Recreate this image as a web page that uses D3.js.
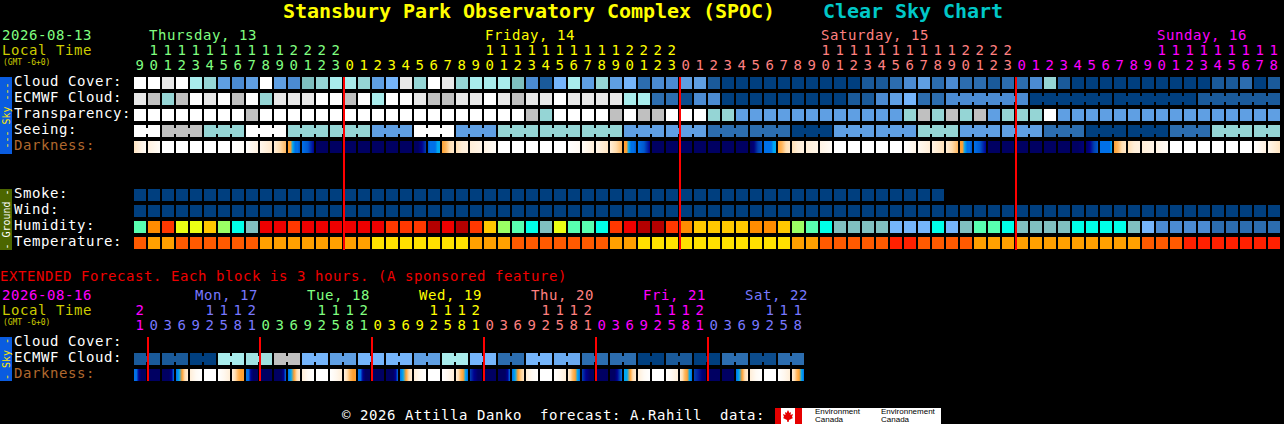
<!DOCTYPE html>
<html><head><meta charset="utf-8">
<script src="https://cdnjs.cloudflare.com/ajax/libs/d3/7.8.5/d3.min.js"></script>
<style>
html,body{margin:0;padding:0;background:#000;overflow:hidden}
svg{display:block}
text{font-family:"DejaVu Sans Mono",monospace;font-size:14px;letter-spacing:0.57px;white-space:pre;text-rendering:optimizeSpeed}
</style></head><body><div id="c"></div>
<script>
// ---------- Data ----------
const title="Stansbury Park Observatory Complex (SPOC)";
const subtitle="Clear Sky Chart";
const firstDate="2026-08-13", extDate="2026-08-16";
const footer="© 2026 Attilla Danko  forecast: A.Rahill  data:";
const extNote="EXTENDED Forecast. Each block is 3 hours. (A sponsored feature)";

const mainHours=[9,10,11,12,13,14,15,16,17,18,19,20,21,22,23,
0,1,2,3,4,5,6,7,8,9,10,11,12,13,14,15,16,17,18,19,20,21,22,23,
0,1,2,3,4,5,6,7,8,9,10,11,12,13,14,15,16,17,18,19,20,21,22,23,
0,1,2,3,4,5,6,7,8,9,10,11,12,13,14,15,16,17,18];
const mainDays=[{name:"Thursday, 13",col:1},{name:"Friday, 14",col:25},{name:"Saturday, 15",col:49},{name:"Sunday, 16",col:73}];
const extHours=[21,0,3,6,9,12,15,18,21,0,3,6,9,12,15,18,21,0,3,6,9,12,15,18,21,0,3,6,9,12,15,18,21,0,3,6,9,12,15,18,21,0,3,6,9,12,15,18];
const extDays=[{name:"Mon, 17",x:195},{name:"Tue, 18",x:307},{name:"Wed, 19",x:419},{name:"Thu, 20",x:531},{name:"Fri, 21",x:643},{name:"Sat, 22",x:745}];

// cloud-style levels (percent)
const cloudCover=[100,100,95,100,80,70,40,30,40,100,40,30,60,70,80,80,70,40,50,95,70,
100,95,70,80,80,80,60,30,10,50,80,40,70,40,50,20,30,30,40,40,10,0,0,0,0,0,0,0,0,0,
0,10,10,20,30,40,20,30,20,20,10,20,20,30,70,10,0,0,0,0,0,0,0,0,0,0,10,10,20,0,10];
const ecmwfCloud=[95,90,70,90,100,95,100,90,100,70,95,95,95,100,100,90,100,80,100,100,95,
90,90,95,95,100,95,90,95,95,100,95,95,95,95,80,80,20,20,5,30,30,0,0,0,0,0,0,0,0,0,
10,10,30,40,50,20,20,30,30,30,30,30,30,0,0,0,0,0,0,0,0,0,0,0,0,10,10,10,10,10,10];
const ecmwfSpans=[1,1,1,1,1,1,1,1,1,1,1,1,1,1,1,1,1,1,1,1,1,1,1,1,1,1,1,1,1,1,1,1,1,1,1,1,1,1,1,1,1,1,1,1,1,1,1,1,1,1,1,1,1,1,1,1,1,1,6,6,6,6];
const transparency=[100,100,100,100,100,100,100,100,90,100,100,100,100,100,100,100,100,100,100,100,100,
100,100,100,100,100,100,100,90,70,100,100,100,100,90,100,90,90,100,100,100,70,70,40,40,40,40,40,40,40,40,
40,40,40,40,70,90,70,90,70,90,40,70,70,70,100,40,40,40,40,40,40,40,40,40,40,40,40,40,40,40,40];
const seeing=[100,100,90,90,90,70,70,70,100,100,100,70,70,70,70,70,70,40,40,40,100,
100,100,40,40,40,70,70,70,70,70,70,70,70,70,40,40,40,40,40,40,20,20,20,20,20,20,0,0,0,40,
40,40,40,40,40,70,70,70,40,40,40,40,40,40,20,20,20,0,0,0,0,0,0,20,20,20,70,70,70,70,70];
const seeingSpans=[2,3,3,3,3,3,3,3,3,3,3,3,3,3,3,3,3,3,3,3,3,3,3,3,3,3,3,2];
const darkness=[[1.3,0.8,0.2],[0.8,0.2],[0],[0],[0],[0],[0],[0,0.2],[0.1,0.8],[0.5,1.2],[1,1.6,2.5],
[3,3,4,5,5,5.5],[5,5.5,7],[8],[8],[8],[8],[8],[8],[8],[8,8,7,6],[5.5,5,5,5,4,4],
[3,2.5,1.5,1.2],[1.5,1,0.8],[1,0.6],[0.7,0.2],[0],[0],[0],[0],[0],[0,0.3],[0.2,1],[0.6,1.3],[1,1.6,2.5],
[3,3,4,5,5,5.5],[5,5.5,7],[8],[8],[8],[8],[8],[8],[8],[8,7.5,6,5.5],[5,5,5,5,4,4],
[3,2.5,1.5,1.2],[1.5,1,0.8],[1,0.6],[0.7,0.2],[0],[0],[0],[0],[0],[0,0.6],[0.3,1],[0.7,1.4],[1,1.6,2.5],
[3,3,4,5,5,5.5],[5,5.5,7],[8],[8],[8],[8],[8],[8],[8,8,7.5],[8,7,6,5.5],[5,5,5,5,5,4],
[3,2.5,1.5,1.2],[1.5,1,0.8],[1,0.6],[0.7,0.2],[0],[0],[0],[0],[0],[0],[0,0.8],[0.5,1.3]];
const smoke=[0,0,0,0,0,0,0,0,0,0,0,0,0,0,0,0,0,0,0,0,0,0,0,0,0,0,0,0,0,0,0,0,0,0,0,0,0,0,0,0,0,0,0,0,0,0,0,0,0,0,0,0,0,0,0,0,0,0];
const wind=[0,0,0,0,0,0,0,0,0,0,0,0,0,0,0,0,0,0,0,0,0,0,0,0,0,0,0,0,0,0,0,0,0,0,0,0,0,0,0,0,0,0,0,0,0,0,0,0,0,0,0,0,0,0,0,0,0,0,0,0,0,0,0,0,0,0,0,0,0,0,0,0,0,0,0,0,0,0,0,0,0,0];
const humidity=[57,77,82,67,67,72,62,52,47,87,87,82,87,87,87,87,87,87,82,82,82,
92,87,92,82,72,62,57,52,47,67,57,57,52,82,87,92,92,82,77,72,72,72,72,77,77,72,62,57,52,47,
47,47,47,42,42,42,52,42,47,57,57,52,47,47,47,47,52,52,52,52,47,42,37,37,37,37,32,32,32,32,32];
const temperature=[32,27,27,32,32,32,32,32,32,27,27,27,27,27,27,27,27,23,23,23,23,
23,23,23,27,27,27,32,32,32,32,32,32,32,27,27,23,23,23,23,23,23,23,23,23,23,23,27,27,32,32,32,
32,32,37,37,32,32,32,32,27,27,27,27,27,27,27,27,27,27,27,27,32,32,32,37,37,37,37,37,37,37];

const extEcmwf=[10,10,10,10,0,0,80,80,75,75,90,90,50,50,40,40,50,50,50,50,40,40,80,80,50,50,20,20,50,50,45,45,20,20,20,20,0,0,10,10,0,0,20,20,5,5,20,20];
const extEcmwfSpans=[2,2,2,2,2,2,2,2,2,2,2,2,2,2,2,2,2,2,2,2,2,2,2,2];
const extDarkness=[[5,5,7,8,8,8],[8],[8,8,8,8,7,5],[5,4,3,1.5,1],[1,0.3,0],[0],[0,0.4,1],[0.8,1.5,2.5,3,3],
[5,5,7,8,8,8],[8],[8,8,8,8,7,5],[5,4,3,1.5,1],[1,0.3,0],[0],[0,0.4,1],[0.8,1.5,2.5,3,3],
[5,5,7,8,8,8],[8],[8,8,8,8,7,5],[5,4,3,1.5,1],[1,0.3,0],[0],[0,0.4,1],[1,1.5,2.5,3,4,5],
[6,7,8,8],[8],[8,8,8,8,7,5],[5,4,3,2,1.3],[1,0.3,0],[0],[0,0.4,1],[1,1.5,2.5,3,4,5],
[6,7,8,8],[8],[8,8,8,7,6,5],[4,4,3,1.5,1],[1,0.3,0],[0],[0,0.4,1],[1,1.5,2.5,3,4,5],
[6,6.5,7.5,8],[8],[8],[5,4,3,1.5,1],[1,0.3,0],[0],[0,0.4,1],[1,1.5,2.5,3,4,5]];

const cloudLevels=[0,5,10,20,30,40,45,50,60,70,75,80,90,95,100];
const cloudColors=["#003f7f","#0c4c8c","#1a5a9a","#2c6daf","#4b8bd2","#5f9fe3","#6aaaf0","#75b5fb","#7fbfbf","#95d5d5","#a0e0e0","#a8ecec","#c0c0c0","#e8e8e8","#ffffff"];
const humidityLevels=[32,37,42,47,52,57,62,67,72,77,82,87,92];
const humidityColors=["#2c6daf","#4b8bd2","#75b5fb","#80c0c0","#00ffe8","#58ffb0","#9bff64","#ebff14","#ffc800","#ff8c00","#ff3800","#ee0000","#b40000"];
const tempLevels=[23,27,32,37];
const tempColors=["#ffe000","#ffa000","#ff5a00","#ff2000"];
const darkLevels=[0,1,2,3,4,5,6,7,8];
const darkColors=["#ffffff","#ffeed8","#ffd090","#ffa030","#00a8f0","#0070e8","#0040b0","#000090","#000062"];

// ---------- Scales ----------
const W=1284,H=424;
const nMain=mainHours.length;
const x=d3.scaleLinear().domain([0,nMain]).range([134,134+14*nMain]);
const cw=x(1)-x(0)-2;
const cloudC=d3.scaleOrdinal(cloudLevels,cloudColors);
const humC=d3.scaleOrdinal(humidityLevels,humidityColors);
const tempC=d3.scaleOrdinal(tempLevels,tempColors);
const darkC=d3.scaleLinear(darkLevels,darkColors);
const rowY=d3.scalePoint().domain(["Cloud Cover:","ECMWF Cloud:","Transparency:","Seeing:","Darkness:"]).range([77,141]);
const groundY=d3.scalePoint().domain(["Smoke:","Wind:","Humidity:","Temperature:"]).range([189,237]);
const extY=d3.scalePoint().domain(["Cloud Cover:","ECMWF Cloud:","Darkness:"]).range([337,369]);

const svg=d3.select("#c").append("svg").attr("width",W).attr("height",H);
svg.append("rect").attr("width",W).attr("height",H).attr("fill","#000");
const defs=svg.append("defs");

function txt(s,px,py,fill,opt={}){
  const t=svg.append("text").attr("x",px).attr("y",py).attr("fill",fill).text(s);
  if(opt.size)t.style("font-size",opt.size+"px").style("letter-spacing",(opt.ls||0)+"px");
  if(opt.bold)t.style("font-weight","bold");
  return t;
}
function row(values,y,color,spans){
  const g=svg.append("g");
  g.selectAll("rect").data(values).join("rect")
   .attr("x",(d,i)=>x(i)).attr("y",y).attr("width",cw).attr("height",cw).attr("fill",d=>color(d));
  if(spans){
    let links=[],c=0;
    spans.forEach(s=>{for(let k=0;k<s-1;k++)links.push(c+k);c+=s;});
    g.selectAll("rect.l").data(links).join("rect").attr("class","l")
     .attr("x",i=>x(i)+cw).attr("y",y+3).attr("width",2).attr("height",6).attr("fill",i=>color(values[i]));
  }
}
function darkRow(values,y,prefix){
  values.forEach((v,i)=>{
    const id=prefix+i;
    const gr=defs.append("linearGradient").attr("id",id);
    const pos=v.length>1?d3.scaleLinear([0,v.length-1],[0,100]):()=>0;
    v.forEach((l,j)=>gr.append("stop").attr("offset",pos(j)+"%").attr("stop-color",darkC(l)));
  });
  svg.append("g").selectAll("rect").data(values).join("rect")
   .attr("x",(d,i)=>x(i)).attr("y",y).attr("width",cw).attr("height",cw)
   .attr("fill",(d,i)=>`url(#${prefix}${i})`);
}

// ---------- Header ----------
txt(title,283,18,"#ffff00",{size:20,bold:true,ls:-0.04});
txt(subtitle,823,18,"#00c8c8",{size:20,bold:true,ls:-0.04});
const dayColors=["#80ff80","#ffff00","#ff8080","#ff00ff"];
const extColors=["#ff00ff","#7878ff","#80ff80","#ffff00","#ff8080","#ff00ff","#7878ff"];
txt(firstDate,2,40,dayColors[0]);
txt("Local Time",2,55,"#cccc00");
txt("(GMT -6+0)",3,65,"#cccc00",{size:8,ls:-0.1});

mainDays.forEach((d,i)=>txt(d.name,x(d.col)+1,40,dayColors[i]));
let day=0;
const mainDayIdx=mainHours.map((h,i)=>{if(i&&h===0)day++;return day;});
svg.append("g").selectAll("text").data(mainHours).join("text")
  .attr("x",(d,i)=>x(i)+cw/2).attr("y",70).attr("text-anchor","middle")
  .attr("fill",(d,i)=>dayColors[mainDayIdx[i]]).text(d=>d%10);
svg.append("g").selectAll("text").data(mainHours).join("text")
  .attr("x",(d,i)=>x(i)+cw/2).attr("y",55).attr("text-anchor","middle")
  .attr("fill",(d,i)=>dayColors[mainDayIdx[i]]).text(d=>d>=10?Math.floor(d/10):"");

// ---------- Main rows ----------
rowY.domain().forEach(l=>txt(l,14,rowY(l)+9,l==="Darkness:"?"#b0682e":"#fff"));
groundY.domain().forEach(l=>txt(l,14,groundY(l)+9,"#fff"));
row(cloudCover,rowY("Cloud Cover:"),cloudC);
row(ecmwfCloud,rowY("ECMWF Cloud:"),cloudC,ecmwfSpans);
row(transparency,rowY("Transparency:"),cloudC);
row(seeing,rowY("Seeing:"),cloudC,seeingSpans);
darkRow(darkness,rowY("Darkness:"),"dm");
row(smoke,groundY("Smoke:"),cloudC);
row(wind,groundY("Wind:"),cloudC);
row(humidity,groundY("Humidity:"),humC);
row(temperature,groundY("Temperature:"),tempC);

// sidebars
function side(y0,y1,fill,label,col){
  svg.append("rect").attr("x",0).attr("y",y0).attr("width",12).attr("height",y1-y0).attr("fill",fill);
  svg.append("text").attr("transform",`translate(10,${(y0+y1)/2}) rotate(-90)`)
    .attr("text-anchor","middle").attr("fill",col).style("font-size","10px").style("letter-spacing","0").text(label);
}
side(77,154,"#0a5ce0","--- Sky ---","#ffe800");
side(189,250,"#4c6600","- Ground -","#fff");
side(337,381,"#0a5ce0","- Sky -","#ffe800");

// midnight markers
const midnights=mainHours.flatMap((h,i)=>h===0?[i]:[]);
svg.append("g").selectAll("rect").data(midnights).join("rect")
  .attr("x",i=>x(i)-1).attr("y",77).attr("width",2).attr("height",173).attr("fill","#f00");

// ---------- Extended ----------
txt(extNote,0,281,"#f00000");
txt(extDate,2,300,"#ff00ff");
txt("Local Time",2,315,"#cccc00");
txt("(GMT -6+0)",3,325,"#cccc00",{size:8,ls:-0.1});
extDays.forEach((d,i)=>txt(d.name,d.x,300,extColors[i+1]));
let ed=0;
const extDayIdx=extHours.map((h,i)=>{if(i&&h===0)ed++;return ed;});
svg.append("g").selectAll("text").data(extHours).join("text")
  .attr("x",(d,i)=>x(i)+cw/2).attr("y",330).attr("text-anchor","middle")
  .attr("fill",(d,i)=>extColors[extDayIdx[i]]).text(d=>d%10);
svg.append("g").selectAll("text").data(extHours).join("text")
  .attr("x",(d,i)=>x(i)+cw/2).attr("y",315).attr("text-anchor","middle")
  .attr("fill",(d,i)=>extColors[extDayIdx[i]]).text(d=>d>=10?Math.floor(d/10):"");
extY.domain().forEach(l=>txt(l,14,extY(l)+9,l==="Darkness:"?"#b0682e":"#fff"));
row(extEcmwf,extY("ECMWF Cloud:"),cloudC,extEcmwfSpans);
darkRow(extDarkness,extY("Darkness:"),"de");
const extMid=extHours.flatMap((h,i)=>h===0?[i]:[]);
svg.append("g").selectAll("rect").data(extMid).join("rect")
  .attr("x",i=>x(i)-1).attr("y",337).attr("width",2).attr("height",44).attr("fill","#f00");

// ---------- Footer ----------
txt(footer,342,420,"#fff");
svg.append("rect").attr("x",775).attr("y",408).attr("width",166).attr("height",16).attr("fill","#fff");
svg.append("rect").attr("x",775).attr("y",408).attr("width",6).attr("height",16).attr("fill","#e60000");
svg.append("rect").attr("x",795).attr("y",408).attr("width",7).attr("height",16).attr("fill","#e60000");
svg.append("path").attr("transform","translate(788,416)").attr("fill","#e60000")
  .attr("d","M0,-6 L1.5,-3 L3,-4 L2.5,-1 L5,-2 L4,1 L5,2 L1,4 L0.6,6 L-0.6,6 L-1,4 L-5,2 L-4,1 L-5,-2 L-2.5,-1 L-3,-4 L-1.5,-3Z");
[["Environment",815,414],["Canada",815,422],["Environnement",881,414],["Canada",881,422]].forEach(a=>
  txt(a[0],a[1],a[2],"#000",{size:8,ls:0}).style("font-family","'Liberation Sans',sans-serif"));
</script></body></html>
